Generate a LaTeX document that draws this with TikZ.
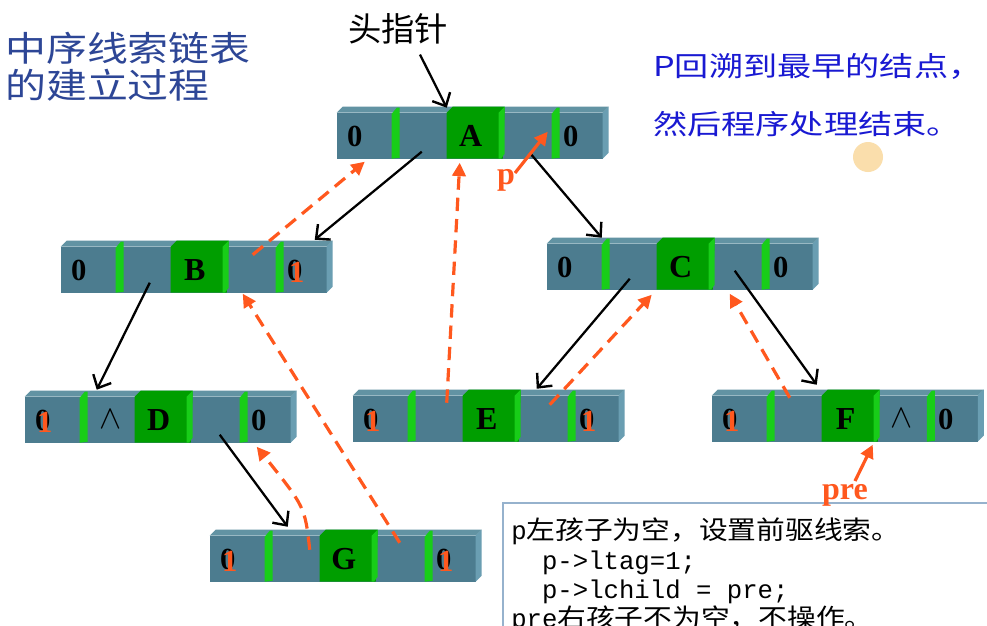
\documentclass[tikz,border=0pt]{standalone}
\usepackage{fontspec}
\usepackage{tikz}
\usetikzlibrary{arrows.meta}
\setmainfont{Liberation Serif}
\newfontfamily\cjk{Noto Sans CJK SC}
\newfontfamily\titlefont[FakeStretch=1.18]{Noto Sans CJK SC}
\newfontfamily\notefont[FakeStretch=1.25]{Noto Sans CJK SC}
\newfontfamily\codecjk[FakeStretch=1.12]{Noto Sans CJK SC}
\newfontfamily\codemono{Liberation Mono}
\definecolor{barfront}{RGB}{76,124,143}
\definecolor{bartopc}{RGB}{98,147,163}
\definecolor{barsidec}{RGB}{106,158,178}
\definecolor{datagreen}{RGB}{0,158,0}
\definecolor{litegreen}{RGB}{24,205,24}
\definecolor{threadorange}{RGB}{255,88,30}
\definecolor{titleblue}{RGB}{45,70,150}
\definecolor{noteblue}{RGB}{25,25,210}
\definecolor{boxline}{RGB}{150,178,205}
\definecolor{cursorglow}{RGB}{250,222,172}

% one threaded node: name, centre, data, left sym, right sym, ltag=1?, rtag=1?
\newcommand{\thrnode}[7]{%
  \node[barface] (#1) at (#2) {};
  \begin{scope}[shift={(#1.north west)}]
    \fill[bartopc] (0,0) -- (6,-6) -- (272,-6) -- (266,0) -- cycle;
    \fill[barsidec] (266,0) -- (272,-6) -- (272,40) -- (266,46) -- cycle;
    \foreach \s in {55,215}
      \fill[litegreen] (\s,1) -- (\s+5,-5) -- (\s+8,-5) -- (\s+8,45) -- (\s,46) -- cycle;
    \fill[datagreen] (110,0) -- (116,-6) -- (168,-6) -- (166,46) -- (110,46) -- cycle;
    \fill[litegreen] (162,0) -- (168,-6) -- (168,41) -- (164,46) -- (162,46) -- cycle;
    \node[tagtxt] (#1-ltag) at (18,24) {0};
    \node[tagtxt] (#1-rtag) at (234,24) {0};
    \node[datatxt] (#1-data) at (134,23) {#3};
    \node[symtxt] (#1-lsym) at (86,23) {#4};
    \node[symtxt] (#1-rsym) at (190,23) {#5};
    \ifnum#6=1 \node[onetxt] (#1-lone) at (20,26) {1};\fi
    \ifnum#7=1 \node[onetxt] (#1-rone) at (236,26) {1};\fi
  \end{scope}}

\begin{document}
\begin{tikzpicture}[x=0.75pt, y=-0.75pt,
    barface/.style={fill=barfront, inner sep=0, minimum width=199.5pt, minimum height=34.5pt},
    tagtxt/.style={inner sep=0, font=\fontsize{23}{23}\selectfont\bfseries},
    datatxt/.style={inner sep=0, font=\fontsize{24}{24}\selectfont\bfseries},
    onetxt/.style={inner sep=0, text=threadorange, font=\fontsize{23}{23}\selectfont\bfseries},
    symtxt/.style={inner sep=0, font=\fontsize{29}{29}\selectfont},
    tree/.style={line width=1.7pt, -{Straight Barb[length=8pt,width=15pt,line width=1.8pt]}},
    thread/.style={threadorange, line width=2.4pt, dash pattern=on 10pt off 6pt, -{Triangle[length=10pt,width=10pt]}},
    ptr/.style={threadorange, line width=2.4pt, -{Triangle[length=10pt,width=10pt]}},
    lab/.style={inner sep=0, text=threadorange, font=\fontsize{24}{24}\selectfont\bfseries}]
  \clip (0,0) rectangle (987,625);
  \fill[white] (0,0) rectangle (987,625);

  \node[inner sep=0, anchor=west, align=left, text=titleblue,
        font=\titlefont\fontsize{26}{28}\selectfont] (title) at (5,67) {中序线索链表\\的建立过程};
  \node[inner sep=0, anchor=west, align=left, text=noteblue,
        font=\notefont\fontsize{20.5}{44}\selectfont] (note) at (653,95) {P回溯到最早的结点，\\然后程序处理结束。};
  \fill[cursorglow] (868,157) circle (15);
  \node[inner sep=0, font=\cjk\fontsize{25}{25}\selectfont] (head) at (398,29) {头指针};

  \thrnode{A}{470,136}{A}{}{}{0}{0}
  \thrnode{B}{194,270}{B}{}{}{0}{1}
  \thrnode{C}{680,267}{C}{}{}{0}{0}
  \thrnode{D}{158,420}{D}{$\wedge$}{}{1}{0}
  \thrnode{E}{486,419}{E}{}{}{1}{1}
  \thrnode{F}{845,419}{F}{}{$\wedge$}{1}{0}
  \thrnode{G}{343,559}{G}{}{}{1}{1}

  % child links
  \draw[tree] ([shift={(22,10)}]head.south) -- ([shift={(110,-5)}]A.north west);
  \draw[tree] ([shift={(85,39)}]A.north west) -- ([shift={(254,-7)}]B.north west);
  \draw[tree] ([shift={(193,40)}]A.north west) -- ([shift={(55,-6)}]C.north west);
  \draw[tree] ([shift={(89,36)}]B.north west) -- ([shift={(72,-7)}]D.north west);
  \draw[tree] ([shift={(83,35)}]C.north west) -- ([shift={(184,-7)}]E.north west);
  \draw[tree] ([shift={(188,27)}]C.north west) -- ([shift={(105,-11)}]F.north west);
  \draw[tree] ([shift={(195,38)}]D.north west) -- ([shift={(78,-9)}]G.north west);

  % threads
  \draw[thread] ([shift={(192,8)}]B.north west) -- ([shift={(28,49)}]A.north west);
  \draw[thread] ([shift={(94,7)}]E.north west) -- ([shift={(123,50)}]A.north west);
  \draw[thread] ([shift={(190,7)}]G.north west) -- ([shift={(182,47)}]B.north west);
  \draw[thread] ([shift={(100,14)}]G.north west) .. controls (305,507) .. ([shift={(232,50)}]D.north west);
  \draw[thread] ([shift={(197,9)}]E.north west) -- ([shift={(105,51)}]C.north west);
  \draw[thread] ([shift={(78,2)}]F.north west) -- ([shift={(183,50)}]C.north west);

  % code box
  \draw[boxline, line width=1pt, fill=white] (503,503) rectangle (1000,650);
  \node[inner sep=0, anchor=north west, align=left,
        font=\fontsize{19.25}{22}\selectfont] (code) at (511,518)
    {{\codemono p}{\codecjk 左孩子为空，设置前驱线索。}\\
     {\codemono\ \ p->ltag=1;}\\
     {\codemono\ \ p->lchild = pre;}\\
     {\codemono pre}{\codecjk 右孩子不为空，不操作。}};

  % p and pre
  \node[lab] (plab) at (506,180) {p};
  \draw[ptr] ([shift={(9,-7)}]plab.center) -- ([shift={(211,19)}]A.north west);
  \node[lab] (prelab) at (845,495) {pre};
  \draw[ptr] ([shift={(10,-14)}]prelab.center) -- ([shift={(161,49)}]F.north west);
\end{tikzpicture}
\end{document}
